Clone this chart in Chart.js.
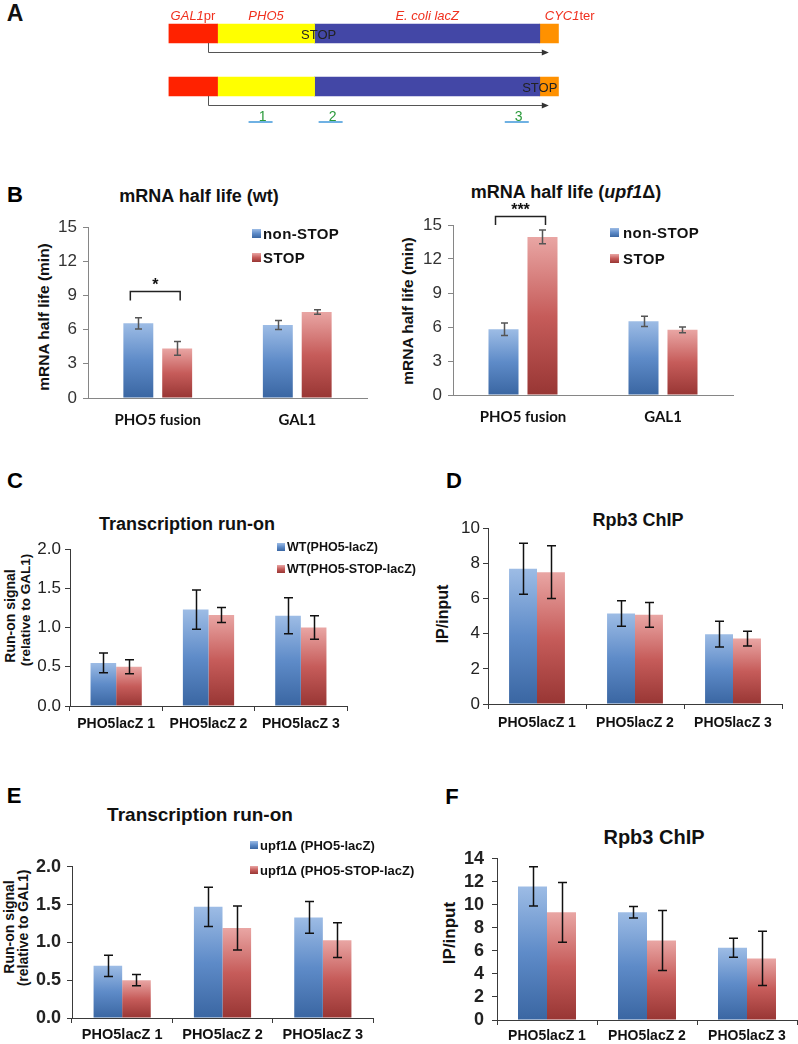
<!DOCTYPE html>
<html><head><meta charset="utf-8">
<script src="https://cdn.jsdelivr.net/npm/chart.js@4.4.1/dist/chart.umd.min.js"></script>
<style>
html,body{margin:0;padding:0;background:#fff;}
body{width:798px;height:1044px;position:relative;overflow:hidden;font-family:"Liberation Sans",Arial,sans-serif;color:#111;}
canvas{position:absolute;}
.t{position:absolute;white-space:nowrap;line-height:1;transform:translate(-50%,-50%);}
.lt{position:absolute;white-space:nowrap;line-height:1;transform:translate(0,-50%);}
.rot{position:absolute;white-space:nowrap;line-height:1;transform:translate(-50%,-50%) rotate(-90deg);}
.mk{position:absolute;}
</style></head><body>
<script>
// ---------------- DATA ----------------
// Panel A: construct schematic (positions in arbitrary construct units)
const segNames = ['<i>GAL1</i>pr', '<i>PHO5</i>', '<i>E. coli lacZ</i>', '<i>CYC1</i>ter'];
const segStart = [0, 49, 146, 371];
const segEnd = [49, 146, 371, 390];
const segColors = ['#ff2200', '#ffff00', '#4347a6', '#ff9100'];
const constructs = ['PHO5-STOP-lacZ', 'PHO5-lacZ-STOP'];
const stopPos = [150, 371];
const tssPos = 39;
const transcriptEnd = 380;
const primerLabels = ['1', '2', '3'];
const primerStart = [80, 150, 336];
const primerEnd = [104, 174, 360];

// Panel B
const halfLifeCats = ['PHO5 fusion', 'GAL1'];
const halfLifeSeries = ['non-STOP', 'STOP'];
const wtNonStop = [6.55, 6.4];
const wtNonStopErr = [0.5, 0.4];
const wtStop = [4.35, 7.55];
const wtStopErr = [0.6, 0.2];
const upfNonStop = [5.8, 6.5];
const upfNonStopErr = [0.55, 0.45];
const upfStop = [13.95, 5.75];
const upfStopErr = [0.6, 0.25];

// Panels C-F
const ampliconCats = ['PHO5lacZ 1', 'PHO5lacZ 2', 'PHO5lacZ 3'];
const wtSeries = ['WT(PHO5-lacZ)', 'WT(PHO5-STOP-lacZ)'];
const upfSeries = ['upf1\u0394 (PHO5-lacZ)', 'upf1\u0394 (PHO5-STOP-lacZ)'];
const runonWtLacZ = [0.55, 1.23, 1.15];
const runonWtLacZErr = [0.125, 0.25, 0.23];
const runonWtStop = [0.5, 1.16, 1.0];
const runonWtStopErr = [0.09, 0.095, 0.15];
const chipWtLacZ = [7.7, 5.15, 3.97];
const chipWtLacZErr = [1.45, 0.73, 0.73];
const chipWtStop = [7.5, 5.07, 3.72];
const chipWtStopErr = [1.5, 0.7, 0.42];
const runonUpfLacZ = [0.69, 1.47, 1.33];
const runonUpfLacZErr = [0.14, 0.26, 0.21];
const runonUpfStop = [0.5, 1.19, 1.03];
const runonUpfStopErr = [0.075, 0.29, 0.23];
const chipUpfLacZ = [11.6, 9.35, 6.27];
const chipUpfLacZErr = [1.7, 0.5, 0.83];
const chipUpfStop = [9.35, 6.9, 5.35];
const chipUpfStopErr = [2.6, 2.6, 2.35];

// ---------------- HELPERS ----------------
const SANS = '"Liberation Sans", Arial, sans-serif';
const BLUE = ['#9dbce5', '#5e8bc8', '#3a66a2'];
const RED = ['#e9a6a4', '#c65c5a', '#983634'];

function addText(html, x, y, style, cls) {
  const d = document.createElement('div');
  d.className = cls || 't';
  d.style.left = x + 'px'; d.style.top = y + 'px';
  Object.assign(d.style, style || {});
  d.innerHTML = html;
  document.body.appendChild(d);
  return d;
}
function makeCanvas(x, y, w, h) {
  const c = document.createElement('canvas');
  c.width = w; c.height = h;
  c.style.left = x + 'px'; c.style.top = y + 'px';
  c.style.width = w + 'px'; c.style.height = h + 'px';
  document.body.appendChild(c);
  return c;
}
function grad(cols) {
  return (c) => {
    const ch = c.chart, ys = ch.scales.y;
    if (c.type !== 'data' || !ys) return cols[1];
    const y0 = ys.getPixelForValue(c.raw), y1 = ys.getPixelForValue(0);
    if (!isFinite(y0) || !isFinite(y1) || Math.abs(y1 - y0) < 1) return cols[1];
    const g = ch.ctx.createLinearGradient(0, y0, 0, y1);
    g.addColorStop(0, cols[0]); g.addColorStop(0.5, cols[1]); g.addColorStop(1, cols[2]);
    return g;
  };
}
function cssGrad(cols) { return 'linear-gradient(to bottom,' + cols[0] + ',' + cols[1] + ' 50%,' + cols[2] + ')'; }

const errorBarPlugin = {
  id: 'errbars',
  afterDatasetsDraw(chart, args, o) {
    const ctx = chart.ctx, ys = chart.scales.y;
    ctx.save();
    ctx.strokeStyle = o.color; ctx.lineWidth = o.width;
    chart.data.datasets.forEach((ds, i) => {
      if (!ds.errors) return;
      chart.getDatasetMeta(i).data.forEach((el, j) => {
        const v = ds.data[j], e = ds.errors[j];
        const yt = ys.getPixelForValue(v + e), yb = ys.getPixelForValue(v - e);
        const x = Math.round(el.x) + 0.5;
        ctx.beginPath();
        ctx.moveTo(x, yt); ctx.lineTo(x, yb);
        ctx.moveTo(x - o.cap, yt); ctx.lineTo(x + o.cap, yt);
        ctx.moveTo(x - o.cap, yb); ctx.lineTo(x + o.cap, yb);
        ctx.stroke();
      });
    });
    ctx.restore();
  }
};
const bracketPlugin = {
  id: 'bracket',
  afterDatasetsDraw(chart, args, o) {
    if (!o || o.cat === undefined) return;
    const ctx = chart.ctx, ys = chart.scales.y;
    const x0 = chart.getDatasetMeta(0).data[o.cat].x - o.extL;
    const x1 = chart.getDatasetMeta(1).data[o.cat].x + o.extR;
    const yt = Math.round(ys.getPixelForValue(o.top)) + 0.5, yb = ys.getPixelForValue(o.leg);
    ctx.save();
    ctx.strokeStyle = '#222'; ctx.lineWidth = 1.5;
    ctx.beginPath();
    ctx.moveTo(x0, yb); ctx.lineTo(x0, yt); ctx.lineTo(x1, yt); ctx.lineTo(x1, yb);
    ctx.stroke();
    ctx.restore();
  }
};

function barPanel(p) {
  const [cx, cy, cw, ch] = p.canvas;
  const [l, t, r, b] = p.area;
  const cv = makeCanvas(cx, cy, cw, ch);
  const datasets = p.values.map((vals, i) => ({
    label: p.series[i], data: vals, errors: p.errors[i],
    backgroundColor: grad(i === 0 ? BLUE : RED), borderWidth: 0,
    categoryPercentage: p.cp, barPercentage: p.bp
  }));
  const chart = new Chart(cv, {
    type: 'bar',
    data: { labels: p.labels, datasets },
    options: {
      responsive: false, animation: false, events: [],
      layout: { padding: { top: t - cy, right: cx + cw - r, left: 0, bottom: 0 } },
      plugins: {
        legend: { display: false }, tooltip: { enabled: false },
        errbars: { color: p.errColor, width: p.errWidth, cap: p.cap },
        bracket: p.bracket || {}
      },
      scales: {
        x: {
          grid: { display: p.xTicks, drawOnChartArea: false, drawTicks: p.xTicks, tickLength: 5, color: p.axisColor, offset: true },
          border: { display: true, color: p.axisColor, width: 1 },
          ticks: { font: p.xFont, color: '#111', padding: p.xPad, maxRotation: 0, autoSkip: false },
          afterFit: (s) => { s.height = cy + ch - b; }
        },
        y: {
          min: p.yMin, max: p.yMax,
          grid: { display: true, drawOnChartArea: false, drawTicks: true, tickLength: 5, color: p.axisColor },
          border: { display: true, color: p.axisColor, width: 1 },
          ticks: { stepSize: p.step, autoSkip: false, font: p.yFont, color: p.tickColor, padding: p.yPad,
                   callback: (v) => p.dec ? Number(v).toFixed(p.dec) : v },
          afterFit: (s) => { s.width = l - cx; }
        }
      }
    },
    plugins: [errorBarPlugin, bracketPlugin]
  });
  // legend (HTML)
  if (p.legend) {
    p.series.forEach((name, i) => {
      const lg = p.legend;
      const y = lg.ys[i];
      const m = document.createElement('div');
      m.className = 'mk';
      m.style.left = lg.mx + 'px'; m.style.top = (y - lg.ms / 2) + 'px';
      m.style.width = lg.ms + 'px'; m.style.height = lg.ms + 'px';
      m.style.background = cssGrad(i === 0 ? BLUE : RED);
      document.body.appendChild(m);
      addText(name, lg.tx, y, lg.style, 'lt');
    });
  }
  if (p.bracket && p.bracket.label) {
    const o = p.bracket;
    const x0 = chart.getDatasetMeta(0).data[o.cat].x - o.extL;
    const x1 = chart.getDatasetMeta(1).data[o.cat].x + o.extR;
    const yt = chart.scales.y.getPixelForValue(o.top);
    addText(o.label, cx + (x0 + x1) / 2, cy + yt - o.labelGap, { font: 'bold 16px ' + SANS });
  }
  return chart;
}

// ---------------- PANEL LETTERS ----------------
const letterStyle = { font: 'bold 22px ' + SANS, color: '#000' };
addText('A', 15, 13, { font: 'bold 23px ' + SANS });
addText('B', 15, 195, letterStyle);
addText('C', 15, 481, letterStyle);
addText('D', 454, 481, letterStyle);
addText('E', 14, 796, letterStyle);
addText('F', 452, 797, letterStyle);

// ---------------- PANEL A ----------------
const cvA = makeCanvas(160, 0, 440, 135);
const chartA = new Chart(cvA, {
  type: 'bar',
  data: {
    labels: constructs,
    datasets: segNames.map((n, i) => ({
      label: n, data: constructs.map(() => [segStart[i], segEnd[i]]),
      backgroundColor: segColors[i], borderWidth: 0, barThickness: 19, grouped: false
    }))
  },
  options: {
    indexAxis: 'y', responsive: false, animation: false, events: [],
    layout: { padding: { left: 8.5, right: 41.2, top: 7, bottom: 22 } },
    plugins: { legend: { display: false }, tooltip: { enabled: false } },
    scales: { x: { type: 'linear', min: 0, max: 390, display: false }, y: { display: false } }
  },
  plugins: [{
    id: 'schematic',
    afterDatasetsDraw(chart) {
      const ctx = chart.ctx, xs = chart.scales.x;
      const meta = chart.getDatasetMeta(0);
      ctx.save();
      meta.data.forEach((el) => {
        const yb = el.y + el.height / 2;
        const x0 = Math.round(xs.getPixelForValue(tssPos)) + 0.5, x1 = xs.getPixelForValue(transcriptEnd);
        const ya = Math.round(yb + 9) + 0.5;
        ctx.strokeStyle = '#555'; ctx.lineWidth = 1;
        ctx.beginPath(); ctx.moveTo(x0, yb); ctx.lineTo(x0, ya); ctx.lineTo(x1 - 5, ya); ctx.stroke();
        ctx.fillStyle = '#333';
        ctx.beginPath(); ctx.moveTo(x1, ya); ctx.lineTo(x1 - 7, ya - 3); ctx.lineTo(x1 - 7, ya + 3); ctx.closePath(); ctx.fill();
      });
      const last = meta.data[meta.data.length - 1];
      const py = last.y + last.height / 2 + 26;
      ctx.strokeStyle = '#6fb1e3'; ctx.lineWidth = 2;
      primerStart.forEach((s, i) => {
        ctx.beginPath(); ctx.moveTo(xs.getPixelForValue(s), py); ctx.lineTo(xs.getPixelForValue(primerEnd[i]), py); ctx.stroke();
      });
      ctx.restore();
    }
  }]
});
(function () {
  const xs = chartA.scales.x, meta = chartA.getDatasetMeta(0);
  const ox = 160, oy = 0;
  const row1 = meta.data[0], row2 = meta.data[1];
  const labStyle = { font: '13px ' + SANS, color: '#f0301e' };
  segNames.forEach((n, i) => {
    const y = oy + row1.y - 18.5;
    if (i === segNames.length - 1) {
      addText(n, ox + xs.getPixelForValue(segStart[i]) + 5, y, labStyle, 'lt');
    } else {
      addText(n, ox + xs.getPixelForValue((segStart[i] + segEnd[i]) / 2), y, labStyle);
    }
  });
  [row1, row2].forEach((row, i) => {
    addText('STOP', ox + xs.getPixelForValue(stopPos[i]), oy + row.y, { font: '13px ' + SANS, color: '#222' });
  });
  primerLabels.forEach((lab, i) => {
    addText(lab, ox + xs.getPixelForValue((primerStart[i] + primerEnd[i]) / 2) + 2, oy + row2.y + row2.height / 2 + 20,
      { font: '14px ' + SANS, color: '#2b9a3b' });
  });
})();

// ---------------- PANEL B ----------------
const bLegendStyle = { font: 'bold 15px ' + SANS, color: '#111', letterSpacing: '0.4px' };
const bTitleStyle = { font: 'bold 18px ' + SANS, color: '#111' };
const bAxisTitle = { font: 'bold 15.5px ' + SANS, color: '#111' };
addText('mRNA half life (wt)', 199, 196, bTitleStyle);
addText('mRNA half life (<i>upf1</i>\u0394)', 566, 192, bTitleStyle);
addText('mRNA half life (min)', 44, 317, bAxisTitle, 'rot');
addText('mRNA half life (min)', 408, 311, bAxisTitle, 'rot');

const bCommon = {
  labels: halfLifeCats, series: halfLifeSeries, yMin: 0, yMax: 15, step: 3,
  yFont: { family: SANS, size: 17 }, tickColor: '#333', yPad: 6,
  xFont: { family: 'Lato', size: 15, weight: 'bold' }, xPad: 13, xTicks: false,
  axisColor: '#868686', errColor: '#555', errWidth: 1.5, cap: 3.5, cp: 0.557, bp: 0.77
};
barPanel(Object.assign({}, bCommon, {
  canvas: [0, 205, 400, 225], area: [88, 227, 367, 398],
  values: [wtNonStop, wtStop], errors: [wtNonStopErr, wtStopErr],
  bracket: { cat: 0, top: 9.35, leg: 8.55, extL: 8, extR: 3, label: '*', labelGap: 6 },
  legend: { mx: 252, ms: 9, tx: 263, ys: [233, 257], style: bLegendStyle }
}));
barPanel(Object.assign({}, bCommon, {
  canvas: [400, 200, 398, 230], area: [453, 225, 733, 395],
  values: [upfNonStop, upfStop], errors: [upfNonStopErr, upfStopErr],
  bracket: { cat: 0, top: 15.8, leg: 15.0, extL: 8, extR: 3, label: '***', labelGap: 6 },
  legend: { mx: 610, ms: 9, tx: 623, ys: [232, 258], style: bLegendStyle }
}));

// ---------------- PANELS C-F ----------------
addText('Transcription run-on', 187, 524, { font: 'bold 18px ' + SANS });
addText('Rpb3 ChIP', 638, 520, { font: 'bold 18px ' + SANS });
addText('Transcription run-on', 200, 815, { font: 'bold 19px ' + SANS });
addText('Rpb3 ChIP', 654, 837, { font: 'bold 20px ' + SANS });
addText('Run-on signal', 10, 616, { font: 'bold 14px ' + SANS }, 'rot');
addText('(relative to GAL1)', 25, 610, { font: 'bold 13.5px ' + SANS }, 'rot');
addText('IP/input', 443, 614, { font: 'bold 16px ' + SANS }, 'rot');
addText('Run-on signal', 9, 927, { font: 'bold 14px ' + SANS }, 'rot');
addText('(relative to GAL1)', 23, 928, { font: 'bold 14px ' + SANS }, 'rot');
addText('IP/input', 450, 933, { font: 'bold 17px ' + SANS }, 'rot');

const cfCommon = {
  labels: ampliconCats, axisColor: '#3a3a3a', errColor: '#111', errWidth: 1.5, cap: 4.5,
  tickColor: '#222', xTicks: true, bp: 1.0
};
barPanel(Object.assign({}, cfCommon, {
  canvas: [0, 535, 400, 205], area: [70, 547, 347, 706],
  series: wtSeries, values: [runonWtLacZ, runonWtStop], errors: [runonWtLacZErr, runonWtStopErr],
  yMin: 0, yMax: 2, step: 0.5, dec: 1, yFont: { family: SANS, size: 17 }, yPad: 4,
  xFont: { family: SANS, size: 14, weight: 'bold' }, xPad: 5, cp: 0.555,
  legend: { mx: 277, ms: 8, tx: 287, ys: [547, 569], style: { font: 'bold 12.5px ' + SANS, color: '#111' } }
}));
barPanel(Object.assign({}, cfCommon, {
  canvas: [400, 515, 398, 225], area: [488, 528, 782, 704],
  series: wtSeries, values: [chipWtLacZ, chipWtStop], errors: [chipWtLacZErr, chipWtStopErr],
  yMin: 0, yMax: 10, step: 2, yFont: { family: SANS, size: 17 }, yPad: 3,
  xFont: { family: SANS, size: 14, weight: 'bold' }, xPad: 6, cp: 0.57
}));
barPanel(Object.assign({}, cfCommon, {
  canvas: [0, 850, 400, 194], area: [72, 862, 373, 1018],
  series: upfSeries, values: [runonUpfLacZ, runonUpfStop], errors: [runonUpfLacZErr, runonUpfStopErr],
  yMin: 0, yMax: 2, step: 0.5, dec: 1, yFont: { family: SANS, size: 18, weight: 'bold' }, yPad: 6,
  xFont: { family: SANS, size: 14.5, weight: 'bold' }, xPad: 3, cp: 0.57,
  legend: { mx: 250, ms: 8, tx: 260, ys: [845, 870], style: { font: 'bold 13px ' + SANS, color: '#111' } }
}));
barPanel(Object.assign({}, cfCommon, {
  canvas: [400, 840, 398, 204], area: [497, 851, 797, 1020],
  series: upfSeries, values: [chipUpfLacZ, chipUpfStop], errors: [chipUpfLacZErr, chipUpfStopErr],
  yMin: 0, yMax: 14, step: 2, yFont: { family: SANS, size: 18, weight: 'bold' }, yPad: 8,
  xFont: { family: SANS, size: 14, weight: 'bold' }, xPad: 3, cp: 0.58
}));
</script>
</body></html>
